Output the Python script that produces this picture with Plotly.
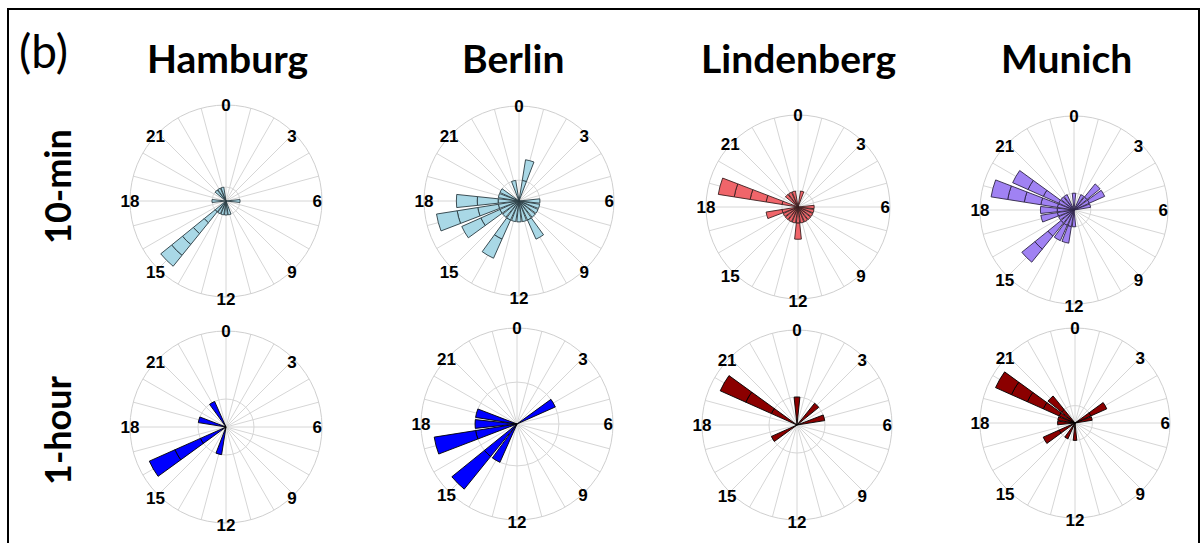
import plotly.graph_objects as go

W, H = 1204, 543

# ---- data -------------------------------------------------------------
HOURS = list(range(24))
HOUR_LABELS = ["0", "3", "6", "9", "12", "15", "18", "21"]
STATIONS = ["Hamburg", "Berlin", "Lindenberg", "Munich"]
RESOLUTIONS = ["10-min", "1-hour"]

# number of events per hour of day (0..23)
hamburg_10min = [0, 0, 0, 0, 0, 0, 1, 0, 0, 0, 0, 1, 1, 1, 1, 6, 0, 0, 1, 0, 0, 1, 1, 1]
berlin_10min = [0, 2, 0, 0, 0, 0, 1, 1, 1, 1, 2, 1, 1, 1, 3, 1, 3, 4, 3, 1, 1, 0, 0, 1]
lindenberg_10min = [0, 1, 0, 0, 0, 0, 1, 1, 1, 1, 1, 1, 2, 1, 1, 1, 1, 2, 0, 5, 0, 1, 1, 1]
munich_10min = [1, 0, 1, 2, 2, 1, 0, 0, 0, 0, 0, 0, 1, 2, 2, 4, 1, 2, 2, 5, 4, 1, 1, 0]

hamburg_1hour = [0, 0, 0, 0, 0, 0, 0, 0, 0, 0, 0, 0, 0, 1, 0, 0, 3, 0, 0, 1, 0, 0, 1, 0]
berlin_1hour = [0, 0, 0, 0, 1, 0, 0, 0, 0, 0, 0, 0, 0, 0, 1, 2, 0, 2, 1, 1, 0, 0, 0, 0]
lindenberg_1hour = [1, 0, 0, 1, 0, 1, 0, 0, 0, 0, 0, 0, 0, 0, 0, 0, 1, 0, 0, 0, 3, 0, 0, 0]
munich_1hour = [0, 0, 0, 0, 2, 1, 0, 0, 0, 0, 0, 0, 1, 0, 1, 0, 2, 0, 1, 1, 5, 2, 0, 0]

# ---- panel styling / placement -----------------------------------------
LIGHT_BLUE = "#a9d8e6"
LIGHT_RED = "#f0656a"
LAVENDER = "#a082f3"
BLUE = "#0000ff"
DARK_RED = "#8b0000"

panels = [
    # counts, fill, outline, centre x, centre y, radius (px), radial range max
    (hamburg_10min, LIGHT_BLUE, "#2a3b42", 226, 201, 96, 6.86),
    (berlin_10min, LIGHT_BLUE, "#2a3b42", 519, 201, 95, 4.55),
    (lindenberg_10min, LIGHT_RED, "#3a2020", 798, 207, 92, 5.7),
    (munich_10min, LAVENDER, "#2e2545", 1074, 210, 94, 5.6),
    (hamburg_1hour, BLUE, "#000000", 226, 427, 96, 3.43),
    (berlin_1hour, BLUE, "#000000", 517, 424, 96, 2.29),
    (lindenberg_1hour, DARK_RED, "#000000", 797, 425, 95, 3.39),
    (munich_1hour, DARK_RED, "#000000", 1075, 423, 95, 5.46),
]

DEG_PER_HOUR = 360 / 24
BAR_WIDTH = 12
GRID = "#d6d6d6"
LABEL_INSET = 10

fig = go.Figure()
layout_polars = {}


def domain(cx, cy, r):
    return dict(x=[(cx - r) / W, (cx + r) / W], y=[1 - (cy + r) / H, 1 - (cy - r) / H])


n = len(panels)
for i, (counts, fill, edge, cx, cy, rad, rmax) in enumerate(panels):
    key = "polar" if i == 0 else f"polar{i + 1}"
    # stacked one-event segments
    for level in range(1, max(counts) + 1):
        hrs = [h for h in HOURS if counts[h] >= level]
        fig.add_trace(go.Barpolar(
            r=[1] * len(hrs),
            theta=[h * DEG_PER_HOUR for h in hrs],
            width=BAR_WIDTH,
            marker=dict(color=fill, line=dict(color=edge, width=0.9)),
            subplot=key,
            showlegend=False,
            hoverinfo="skip",
        ))
    layout_polars[key] = dict(
        domain=domain(cx, cy, rad),
        bgcolor="white",
        barmode="stack",
        radialaxis=dict(range=[0, rmax], showticklabels=False, ticks="",
                        tickvals=[1], showgrid=True, gridcolor=GRID, gridwidth=1,
                        showline=False),
        angularaxis=dict(direction="clockwise", rotation=90,
                         tickmode="array",
                         tickvals=[h * DEG_PER_HOUR for h in HOURS],
                         showticklabels=False, ticks="",
                         showgrid=True, gridcolor=GRID, gridwidth=1,
                         showline=True, linecolor="#cfcfcf", linewidth=1),
    )

    # hour labels sitting on the outer ring
    lkey = f"polar{n + i + 1}"
    fig.add_trace(go.Scatterpolar(r=[0], theta=[0], mode="markers",
                                  marker=dict(opacity=0), subplot=lkey,
                                  showlegend=False, hoverinfo="skip"))
    layout_polars[lkey] = dict(
        domain=domain(cx, cy, rad - LABEL_INSET),
        bgcolor="rgba(0,0,0,0)",
        radialaxis=dict(visible=False, range=[0, 1]),
        angularaxis=dict(direction="clockwise", rotation=90,
                         tickmode="array",
                         tickvals=[int(t) * DEG_PER_HOUR for t in HOUR_LABELS],
                         ticktext=HOUR_LABELS, ticks="",
                         tickfont=dict(family="Liberation Sans", size=17,
                                       color="black", weight="bold"),
                         showgrid=False, showline=False),
    )

annotations = []
title_x = [227, 513, 798, 1066]
for name, x in zip(STATIONS, title_x):
    annotations.append(dict(text=name, x=x / W, y=1 - 58 / H, xref="paper", yref="paper",
                            showarrow=False, xanchor="center", yanchor="middle",
                            font=dict(family="Lato", size=39, color="black", weight="bold")))
for name, y in zip(RESOLUTIONS, [187, 430]):
    annotations.append(dict(text=name, x=57 / W, y=1 - y / H, xref="paper", yref="paper",
                            showarrow=False, textangle=-90, xanchor="center", yanchor="middle",
                            font=dict(family="Lato", size=36, color="black", weight="bold")))
annotations.append(dict(text="(b)", x=43 / W, y=1 - 51 / H, xref="paper", yref="paper",
                        showarrow=False, xanchor="center", yanchor="middle",
                        font=dict(family="Lato", size=46, color="black")))

fig.update_layout(
    width=W, height=H,
    margin=dict(l=0, r=0, t=0, b=0),
    paper_bgcolor="white",
    showlegend=False,
    annotations=annotations,
    shapes=[dict(type="rect", xref="paper", yref="paper",
                 x0=8 / W, x1=1199 / W, y0=-0.05, y1=1 - 9 / H,
                 line=dict(color="black", width=2))],
    **layout_polars,
)

fig.write_html("out.html")
